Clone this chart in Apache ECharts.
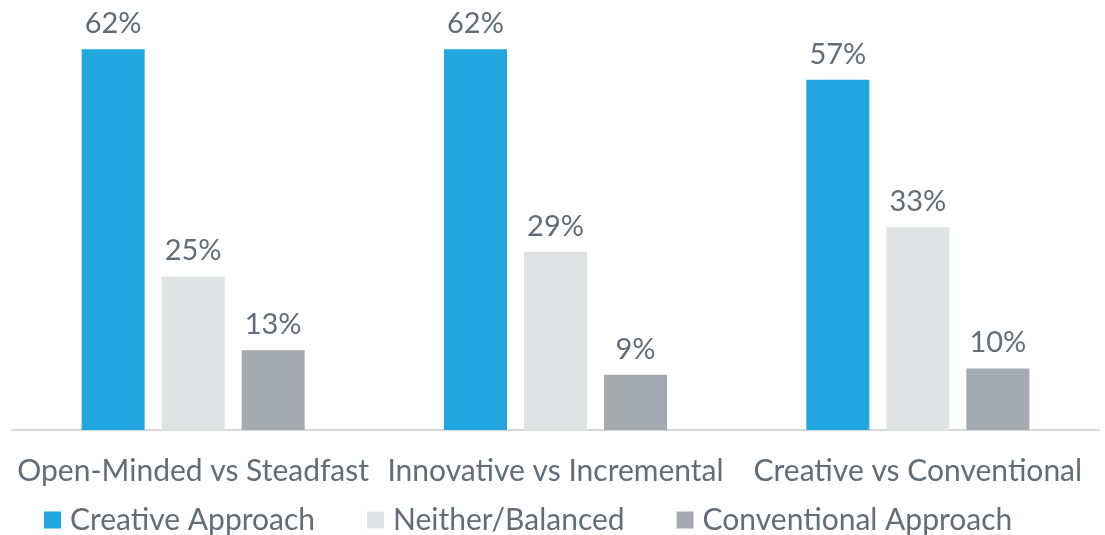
<!DOCTYPE html>
<html>
<head>
<meta charset="utf-8">
<script src="https://cdn.jsdelivr.net/npm/echarts@6/dist/echarts.min.js"></script>
<style>
  html, body { margin: 0; padding: 0; background: #fff; }
  #chart { width: 1105px; height: 535px; }
</style>
</head>
<body>
<div id="chart"></div>
<script>
// Survey result categories and the share of respondents per approach (%)
const categories = ['Open-Minded vs Steadfast', 'Innovative vs Incremental', 'Creative vs Conventional'];
const creative = [62, 62, 57];
const balanced = [25, 29, 33];
const conventional = [13, 9, 10];
const seriesNames = ['Creative Approach', 'Neither/Balanced', 'Conventional Approach'];

const textColor = '#646d75';
const fontFamily = 'Lato';
const fontSize = 30;

function barSeries(name, values, color) {
  return {
    name: name,
    type: 'bar',
    data: values,
    barWidth: 63,
    barGap: '27%',
    itemStyle: { color: color },
    label: {
      show: true,
      position: 'top',
      distance: 11,
      formatter: '{c}%',
      color: textColor,
      fontFamily: fontFamily,
      fontSize: 29
    }
  };
}

const chart = echarts.init(document.getElementById('chart'), null, { renderer: 'canvas' });
chart.setOption({
  animation: false,
  grid: { left: 12, right: 6, top: 0, bottom: 105, containLabel: false },
  legend: {
    top: 500,
    left: 39,
    itemWidth: 17,
    itemHeight: 17,
    itemGap: 52,
    icon: 'rect',
    textStyle: {
      color: textColor,
      fontFamily: fontFamily,
      fontSize: fontSize,
      padding: [0, 0, 0, 4]
    }
  },
  xAxis: {
    type: 'category',
    data: categories,
    axisLine: { lineStyle: { color: '#d9d9d9', width: 2 } },
    axisTick: { show: false },
    axisLabel: {
      color: textColor,
      fontFamily: fontFamily,
      fontSize: fontSize,
      margin: 26,
      interval: 0
    }
  },
  yAxis: {
    type: 'value',
    min: 0,
    max: 70,
    show: false,
    splitLine: { show: false }
  },
  series: [
    barSeries(seriesNames[0], creative, '#21a6e0'),
    barSeries(seriesNames[1], balanced, '#e1e2e4'),
    barSeries(seriesNames[2], conventional, '#a5a9b0')
  ]
});
</script>
</body>
</html>
